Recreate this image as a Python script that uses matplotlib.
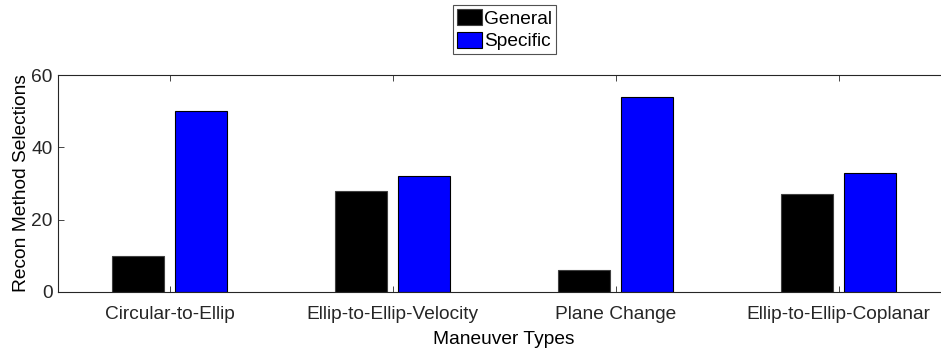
import numpy as np
import matplotlib.pyplot as plt

plt.rcParams['font.family'] = ['Liberation Sans', 'DejaVu Sans']

maneuvers = ['Circular-to-Ellip', 'Ellip-to-Ellip-Velocity', 'Plane Change', 'Ellip-to-Ellip-Coplanar']
general = [10, 28, 6, 27]
specific = [50, 32, 54, 33]

x = np.arange(1, len(maneuvers) + 1)
w = 0.233
axc = '#262626'
fs = 13.8

fig = plt.figure(figsize=(9.41, 3.49), dpi=100)
ax = fig.add_axes([58 / 941, 1 - 292 / 349, (950 - 58) / 941, (292 - 75) / 349])

ax.bar(x - 0.143, general, w, color='black', edgecolor='#404040', linewidth=0.8, label='General')
ax.bar(x + 0.143, specific, w, color='#0000ff', edgecolor='black', linewidth=0.8, label='Specific')

ax.set_xlim(0.5, 4.5)
ax.set_ylim(0, 60)
ax.set_xticks(x)
ax.set_xticklabels(maneuvers)
ax.set_yticks([0, 20, 40, 60])
ax.tick_params(direction='in', length=4, width=0.6, color=axc, labelsize=fs, labelcolor=axc,
               top=True, right=False)
ax.tick_params(axis='x', pad=10)
ax.tick_params(axis='y', pad=4)
for s in ax.spines.values():
    s.set_color(axc)
    s.set_linewidth(0.8)
ax.spines['right'].set_visible(False)

ax.set_xlabel('Maneuver Types', fontsize=fs, color='black', labelpad=6)
ax.set_ylabel('Recon Method Selections', fontsize=fs, color='black', labelpad=1)

leg = fig.legend(loc='upper center', bbox_to_anchor=(504.5 / 941, 1 - 5 / 349), fontsize=fs,
                 frameon=True, fancybox=False, edgecolor=axc, handlelength=1.35, handleheight=0.95,
                 handletextpad=0.1, labelspacing=0.2, borderpad=0.2, borderaxespad=0)
leg.get_frame().set_linewidth(0.8)

fig.savefig('out.png', dpi=100)
